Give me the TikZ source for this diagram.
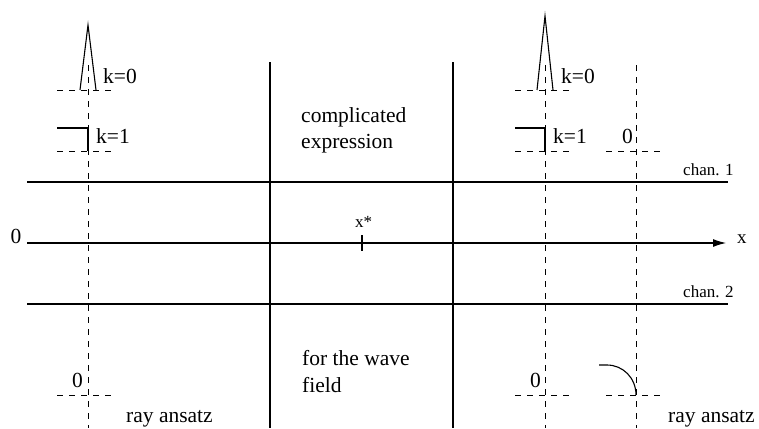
\documentclass[tikz,border=0pt]{standalone}
\usepackage{fontspec}
\setmainfont{Liberation Serif}
\usetikzlibrary{arrows.meta}
\begin{document}
\begin{tikzpicture}[x=1pt,y=-1pt,
  thinline/.style={line width=1.1pt},
  chanline/.style={line width=1.6pt},
  dashline/.style={line width=0.9pt, dash pattern=on 6pt off 6pt},
  lbl/.style={inner sep=0pt, anchor=base west, font=\fontsize{21.5}{26}\selectfont},
  small/.style={inner sep=0pt, anchor=base west, font=\fontsize{17}{20}\selectfont},
  axlbl/.style={inner sep=0pt, anchor=base west, font=\fontsize{19}{22}\selectfont}]
\useasboundingbox (0,0) rectangle (759,428);
% coordinates
\coordinate (cA1) at (27,182); \coordinate (cA2) at (728,182);
\coordinate (cB1) at (27,304); \coordinate (cB2) at (728,304);
\coordinate (ax1) at (27,243); \coordinate (ax2) at (726,243);
\coordinate (v1t) at (270,62); \coordinate (v1b) at (270,428);
\coordinate (v2t) at (453,62); \coordinate (v2b) at (453,428);
\coordinate (tk1) at (362,235); \coordinate (tk2) at (362,251);
\coordinate (dL1) at (88,65); \coordinate (dL2) at (88,428);
\coordinate (dR1) at (545,65); \coordinate (dR2) at (545,428);
\coordinate (dS1) at (636,65); \coordinate (dS2) at (636,428);
% solid lines
\draw[chanline] (cA1) -- (cA2);
\draw[chanline] (cB1) -- (cB2);
\draw[thinline,-{Latex[length=13pt,width=8pt]}] (ax1) -- (ax2);
\draw[thinline] (v1t) -- (v1b);
\draw[thinline] (v2t) -- (v2b);
\draw[thinline] (tk1) -- (tk2);
% dashed verticals
\draw[dashline] (dL1) -- (dL2);
\draw[dashline] (dR1) -- (dR2);
\draw[dashline] (dS1) -- (dS2);
% dashed horizontals
\draw[dashline] (57,90) -- (112,90);
\draw[dashline] (57,151) -- (112,151);
\draw[dashline] (57,395) -- (112,395);
\draw[dashline] (515,90) -- (570,90);
\draw[dashline] (515,151) -- (570,151);
\draw[dashline] (606,151) -- (661,151);
\draw[dashline] (515,395) -- (570,395);
\draw[dashline] (606,395) -- (661,395);
% spikes and steps
\draw[thinline] (80,90) -- (88,25) -- (96,90);
\draw[thinline] (537,90) -- (545,16) -- (553,90);
\draw[thinline] (57,128) -- (88,128) -- (88,151);
\draw[thinline] (515,128) -- (545,128) -- (545,151);
% arc
\draw[thinline] (599,365) -- (607,365) .. controls (623,365) and (636,378) .. (636,395);
% labels
\node[lbl] (z0) at (10.5,243) {0};
\node[axlbl] (xl) at (737,243) {x};
\node[small] (xs) at (355,227) {x*};
\node[small] (c1) at (683,175) {chan. 1};
\node[small] (c2) at (683,297) {chan. 2};
\node[lbl] (k0L) at (103,83) {k=0};
\node[lbl] (k0R) at (561,83) {k=0};
\node[lbl] (k1L) at (96,143) {k=1};
\node[lbl] (k1R) at (553,143) {k=1};
\node[lbl] (zR) at (622,143) {0};
\node[lbl] (zBL) at (72,387) {0};
\node[lbl] (zBR) at (530,387) {0};
\node[lbl] (raL) at (126,422) {ray ansatz};
\node[lbl] (raR) at (668,422) {ray ansatz};
\node[lbl] (t1) at (301,122) {complicated};
\node[lbl] (t2) at (301,148) {expression};
\node[lbl] (t3) at (302,365) {for the wave};
\node[lbl] (t4) at (302,392) {field};
\end{tikzpicture}
\end{document}
